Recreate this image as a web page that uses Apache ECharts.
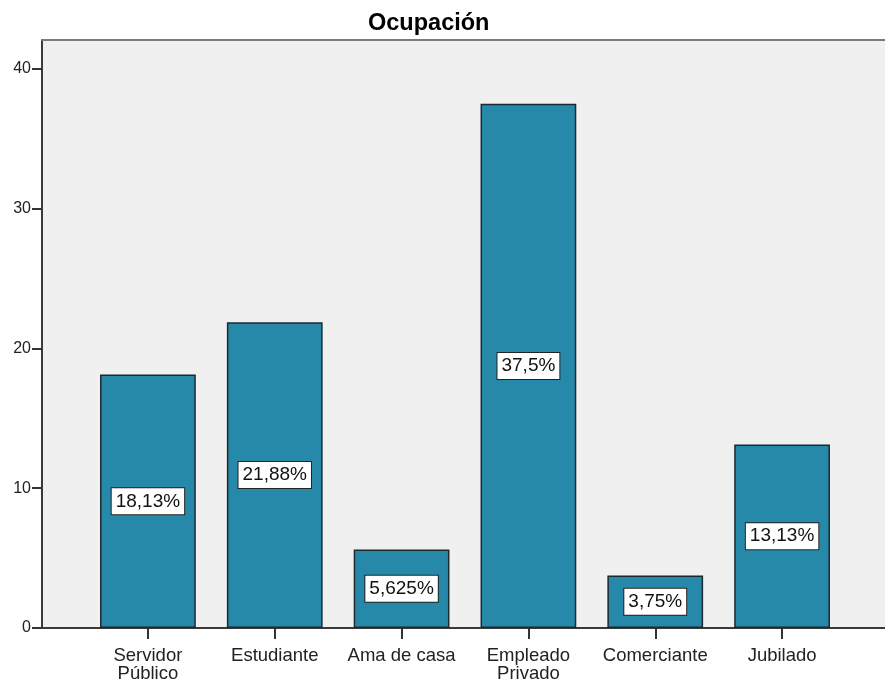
<!DOCTYPE html>
<html>
<head>
<meta charset="utf-8">
<script src="https://cdn.jsdelivr.net/npm/echarts@6/dist/echarts.min.js"></script>
<style>
  html, body { margin: 0; padding: 0; background: #fff; }
  #chart { width: 885px; height: 686px; }
</style>
</head>
<body>
<div id="chart"></div>
<script>
// datos del gráfico
const categories = ['Servidor\nPúblico', 'Estudiante', 'Ama de casa', 'Empleado\nPrivado', 'Comerciante', 'Jubilado'];
const percentages = [18.13, 21.88, 5.625, 37.5, 3.75, 13.13];
const barLabels = ['18,13%', '21,88%', '5,625%', '37,5%', '3,75%', '13,13%'];
const yTicks = [0, 10, 20, 30, 40];

const yMax = 42.07;
const font = 'Liberation Sans, Arial, sans-serif';

const chart = echarts.init(document.getElementById('chart'));

const option = {
  animation: false,
  title: {
    text: 'Ocupación',
    left: 363,
    top: 7,
    textStyle: { fontFamily: font, fontSize: 23.5, fontWeight: 'bold', color: '#000' }
  },
  grid: [
    // fondo del área de trazado
    { left: 42, right: 0, top: 40, bottom: 58, show: true, backgroundColor: '#f0f0f0', borderWidth: 0 },
    // área de las barras
    { left: 84.5, right: 39.5, top: 40, bottom: 58 }
  ],
  xAxis: [
    {
      gridIndex: 0, type: 'value', min: 0, max: 1,
      axisLine: { show: true, lineStyle: { color: '#3a3a3a', width: 2 } },
      axisTick: { show: false }, axisLabel: { show: false }, splitLine: { show: false }
    },
    {
      gridIndex: 0, type: 'value', min: 0, max: 1, position: 'top',
      axisLine: { show: true, lineStyle: { color: '#7a7a7a', width: 2 } },
      axisTick: { show: false }, axisLabel: { show: false }, splitLine: { show: false }
    },
    {
      gridIndex: 1, type: 'category', data: categories,
      axisLine: { show: false },
      axisTick: { show: true, interval: 0, alignWithLabel: true, length: 11, lineStyle: { color: '#333', width: 2 } },
      axisLabel: { interval: 0, fontFamily: font, fontSize: 18.5, color: '#222', margin: 19, lineHeight: 18 }
    }
  ],
  yAxis: [
    {
      gridIndex: 0, type: 'value', min: 0, max: yMax, interval: 10,
      axisLine: { show: true, lineStyle: { color: '#3a3a3a', width: 2 } },
      axisTick: { show: true, length: 10, customValues: yTicks, lineStyle: { color: '#333', width: 2 } },
      axisLabel: { fontFamily: font, fontSize: 16, color: '#222', margin: 11, customValues: yTicks },
      splitLine: { show: false }
    },
    {
      gridIndex: 1, type: 'value', min: 0, max: yMax, show: false
    }
  ],
  series: [
    {
      type: 'bar',
      xAxisIndex: 2,
      yAxisIndex: 1,
      data: percentages,
      barWidth: '75.5%',
      itemStyle: { color: '#2689a9', borderColor: '#1c2a30', borderWidth: 1.5 },
      label: {
        show: true,
        position: 'inside',
        formatter: p => barLabels[p.dataIndex],
        fontFamily: font,
        fontSize: 19,
        color: '#111',
        backgroundColor: '#fff',
        borderColor: '#222',
        borderWidth: 1,
        padding: [4, 4, 3, 4]
      }
    }
  ]
};

chart.setOption(option);
</script>
</body>
</html>
